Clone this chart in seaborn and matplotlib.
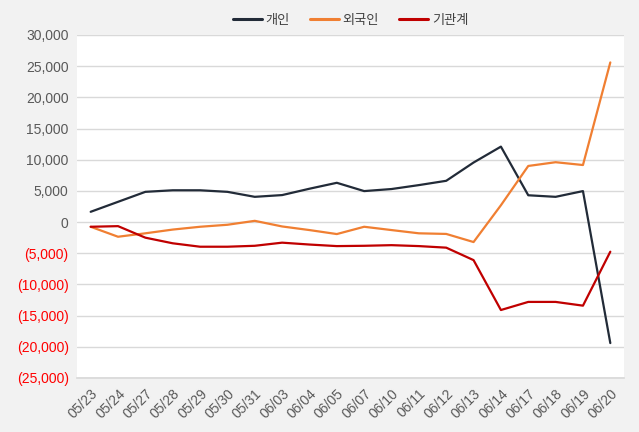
import matplotlib
matplotlib.use("Agg")
import matplotlib.pyplot as plt
import seaborn as sns
import pandas as pd
from matplotlib.ticker import FuncFormatter

dates = ["05/23", "05/24", "05/27", "05/28", "05/29", "05/30", "05/31", "06/03", "06/04", "06/05",
         "06/07", "06/10", "06/11", "06/12", "06/13", "06/14", "06/17", "06/18", "06/19", "06/20"]
individual = [1650, 3250, 4850, 5100, 5100, 4850, 4050, 4330, 5350, 6300,
              4970, 5300, 5930, 6620, 9550, 12100, 4300, 4050, 4970, -19400]
foreign = [-750, -2350, -1800, -1200, -750, -430, 200, -700, -1280, -1920,
           -750, -1280, -1800, -1900, -3200, 2700, 9000, 9600, 9150, 25600]
institution = [-750, -650, -2500, -3400, -3950, -3950, -3800, -3300, -3600, -3850,
               -3800, -3700, -3850, -4100, -6100, -14100, -12800, -12800, -13400, -4750]
series_names = ["개인", "외국인", "기관계"]
colors = ["#222B38", "#F07F32", "#C00000"]
yticks = [-25000, -20000, -15000, -10000, -5000, 0, 5000, 10000, 15000, 20000, 25000, 30000]

rows = []
for name, vals in zip(series_names, [individual, foreign, institution]):
    for i, (d, v) in enumerate(zip(dates, vals)):
        rows.append({"idx": i, "date": d, "value": v, "series": name})
df = pd.DataFrame(rows)

sns.set_theme(style="white")
plt.rcParams['font.family'] = ['Liberation Sans', 'Noto Sans CJK KR', 'DejaVu Sans']

fig = plt.figure(figsize=(6.39, 4.32), dpi=100, facecolor="#F2F2F2")
ax = fig.add_axes([0.1205, 0.125, 0.856, 0.794])
ax.set_facecolor("white")

sns.lineplot(data=df, x="idx", y="value", hue="series", hue_order=series_names,
             palette=colors, linewidth=1.6, ax=ax, legend=True)

ax.set_xlim(-0.5, len(dates) - 0.5)
ax.set_ylim(-25000, 30000)
ax.set_yticks(yticks)
ax.set_xticks(range(len(dates)))
ax.set_xticklabels(dates, rotation=45, ha="right", rotation_mode="anchor")
ax.yaxis.set_major_formatter(FuncFormatter(lambda v, p: f"({abs(int(v)):,})" if v < 0 else f"{int(v):,}"))
ax.tick_params(axis="both", length=0, labelsize=10, labelcolor="#595959", pad=6)
for lab, v in zip(ax.get_yticklabels(), yticks):
    if v < 0:
        lab.set_color("#FF0000")
ax.grid(axis="y", color="#D9D9D9", linewidth=1)
ax.set_axisbelow(True)
for s in ["top", "left", "right"]:
    ax.spines[s].set_visible(False)
ax.spines["bottom"].set_color("#D9D9D9")
ax.set_xlabel("")
ax.set_ylabel("")

leg = ax.legend(loc="lower center", bbox_to_anchor=(0.5, 1.0), ncol=3, frameon=False,
                fontsize=9.5, handlelength=2.2, columnspacing=1.5, handletextpad=0.3,
                borderaxespad=0.2)
for line in leg.get_lines():
    line.set_linewidth(2.2)
for t in leg.get_texts():
    t.set_color("#404040")

fig.savefig("out.png", dpi=100, facecolor=fig.get_facecolor())
